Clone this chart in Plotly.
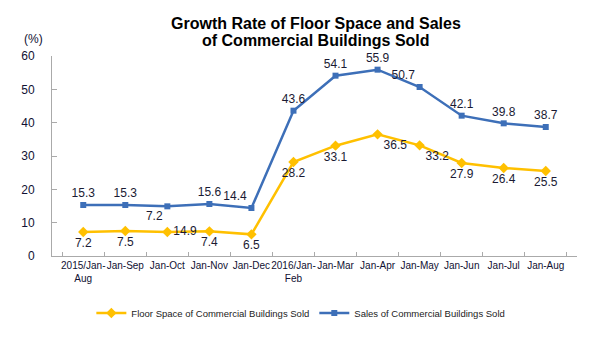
import plotly.graph_objects as go

categories = ["2015/Jan-<br>Aug", "Jan-Sep", "Jan-Oct", "Jan-Nov", "Jan-Dec", "2016/Jan-<br>Feb",
              "Jan-Mar", "Jan-Apr", "Jan-May", "Jan-Jun", "Jan-Jul", "Jan-Aug"]
floor_space = [7.2, 7.5, 7.2, 7.4, 6.5, 28.2, 33.1, 36.5, 33.2, 27.9, 26.4, 25.5]
sales = [15.3, 15.3, 14.9, 15.6, 14.4, 43.6, 54.1, 55.9, 50.7, 42.1, 39.8, 38.7]
# labels as printed on the original chart (Jan-Oct labels appear swapped there)
floor_labels = ["7.2", "7.5", "14.9", "7.4", "6.5", "28.2", "33.1", "36.5", "33.2", "27.9", "26.4", "25.5"]
sales_labels = ["15.3", "15.3", "7.2", "15.6", "14.4", "43.6", "54.1", "55.9", "50.7", "42.1", "39.8", "38.7"]
title_lines = ["Growth Rate of Floor Space and Sales", "of Commercial Buildings Sold"]

YELLOW = "#FFC000"
BLUE = "#3D6FB8"
LABEL = "#1a1a33"
FONT = "Liberation Sans, Arial, sans-serif"

floor_pos = ["bottom center"] * 12
floor_pos[2] = "middle right"
floor_pos[7] = "bottom right"
floor_pos[8] = "bottom right"
sales_pos = ["top center"] * 12
sales_pos[2] = "bottom left"
sales_pos[4] = "top left"
sales_pos[8] = "top left"

fig = go.Figure()
fig.add_trace(go.Scatter(
    x=categories, y=floor_space, mode="lines+markers+text",
    name="Floor Space of Commercial Buildings Sold",
    line=dict(color=YELLOW, width=2.5),
    marker=dict(symbol="diamond", size=8, color=YELLOW),
    text=floor_labels, textposition=floor_pos,
    textfont=dict(size=12, color=LABEL, family=FONT),
    cliponaxis=False,
))
fig.add_trace(go.Scatter(
    x=categories, y=sales, mode="lines+markers+text",
    name="Sales of Commercial Buildings Sold",
    line=dict(color=BLUE, width=2.5),
    marker=dict(symbol="square", size=6, color=BLUE),
    text=sales_labels, textposition=sales_pos,
    textfont=dict(size=12, color=LABEL, family=FONT),
    cliponaxis=False,
))

annotations = [dict(
    text="(%)", xref="paper", yref="paper", x=-0.035, y=1.04,
    xanchor="center", yanchor="bottom", showarrow=False,
    font=dict(size=12, color="#111133", family=FONT),
)]
for line_text, ypos in zip(title_lines, [1.164, 1.077]):
    annotations.append(dict(
        text="<b>" + line_text + "</b>", xref="paper", yref="paper", x=0.503, y=ypos,
        xanchor="center", yanchor="middle", showarrow=False,
        font=dict(size=16, color="#000000", family=FONT),
    ))

fig.update_layout(
    width=595, height=339,
    margin=dict(l=52, r=18, t=56, b=76),
    paper_bgcolor="white", plot_bgcolor="white",
    font=dict(family=FONT, color="#111111"),
    showlegend=True,
    legend=dict(
        orientation="h", x=0.474, xanchor="center", y=-0.285, yanchor="middle",
        font=dict(size=9.5, color="#222222", family=FONT),
        itemwidth=30, tracegroupgap=0,
    ),
    xaxis=dict(
        type="category", showgrid=False, showline=True, linecolor="#AAAAAA", linewidth=1,
        ticks="inside", ticklen=4, tickcolor="#AAAAAA", tickson="boundaries",
        tickfont=dict(size=10, color="#111133", family=FONT),
        tickangle=0, automargin=False,
    ),
    yaxis=dict(
        range=[0, 60], dtick=10, showgrid=False, showline=True, linecolor="#AAAAAA", linewidth=1,
        ticks="inside", ticklen=5, tickcolor="#AAAAAA",
        tickfont=dict(size=12, color="#111133", family=FONT),
        ticklabelstandoff=14, zeroline=False, automargin=False,
    ),
    annotations=annotations,
)

fig.write_html("out.html")
